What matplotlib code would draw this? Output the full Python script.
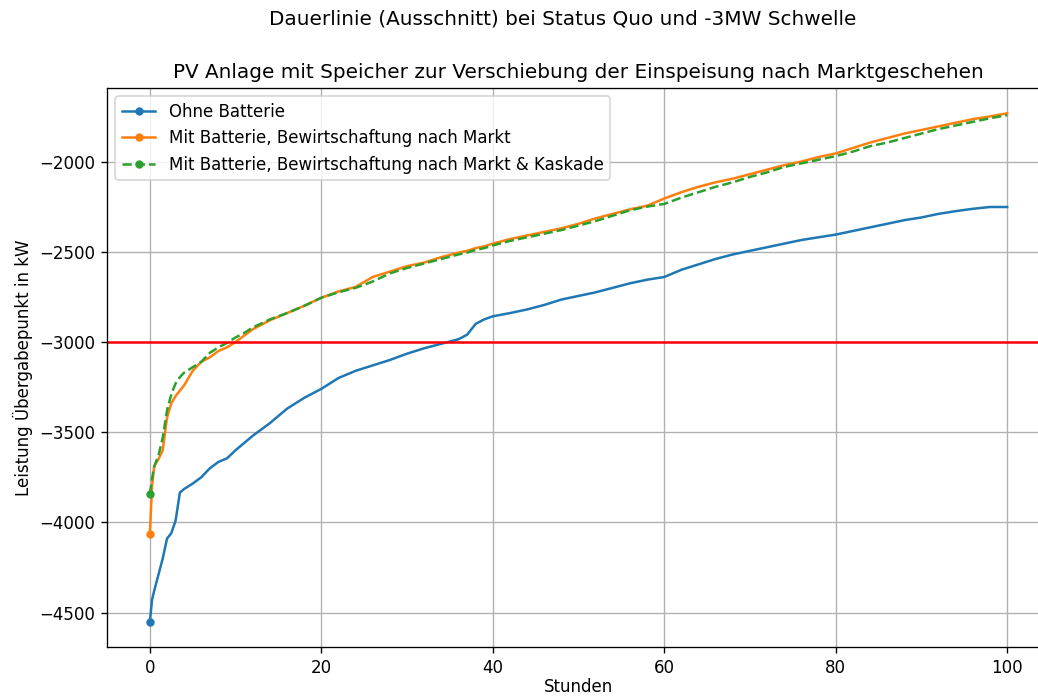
import numpy as np
import matplotlib
matplotlib.use('Agg')
import matplotlib.pyplot as plt

# Stunden (Dauerlinie, Ausschnitt)
hours = [0, 0.25, 0.5, 1, 1.5, 2, 2.5, 3, 3.5, 4, 5, 6, 7, 8, 9, 10, 11, 12,
         14, 16, 18, 20, 22, 24, 26, 28, 30, 32, 34, 36, 37, 38, 39, 40,
         42, 44, 46, 48, 50, 52, 54, 56, 58, 60, 62, 64, 66, 68, 70, 72,
         74, 76, 78, 80, 82, 84, 86, 88, 90, 92, 94, 96, 98, 100]

ohne_batterie = [-4550, -4430, -4380, -4290, -4200, -4090, -4060, -3990, -3835, -3815,
                 -3785, -3750, -3700, -3665, -3645, -3600, -3560, -3520,
                 -3450, -3370, -3310, -3260, -3200, -3160, -3130, -3100, -3065, -3035,
                 -3010, -2985, -2960, -2900, -2875, -2858,
                 -2840, -2820, -2795, -2765, -2745, -2725, -2700, -2675, -2655, -2640,
                 -2600, -2570, -2540, -2515, -2495, -2475,
                 -2455, -2435, -2420, -2405, -2385, -2365, -2345, -2325, -2310, -2290,
                 -2275, -2262, -2252, -2252]

markt = [-4065, -3800, -3690, -3650, -3600, -3420, -3340, -3300, -3270, -3240,
         -3160, -3110, -3085, -3050, -3030, -3000, -2965, -2930,
         -2880, -2840, -2800, -2755, -2720, -2695, -2640, -2610, -2580, -2560,
         -2530, -2505, -2495, -2480, -2470, -2455,
         -2430, -2410, -2390, -2370, -2345, -2315, -2290, -2265, -2245, -2205,
         -2170, -2140, -2115, -2095, -2070, -2045,
         -2020, -2000, -1975, -1955, -1925, -1895, -1870, -1845, -1825, -1805,
         -1785, -1765, -1750, -1733]

markt_kaskade = [-3842, -3760, -3690, -3630, -3530, -3380, -3290, -3230, -3195, -3170,
                 -3140, -3110, -3060, -3030, -3005, -2975, -2950, -2920,
                 -2875, -2840, -2800, -2755, -2725, -2700, -2665, -2620, -2590, -2565,
                 -2540, -2515, -2505, -2490, -2480, -2465,
                 -2440, -2420, -2400, -2380, -2355, -2330, -2300, -2270, -2250, -2235,
                 -2200, -2170, -2140, -2115, -2085, -2060,
                 -2030, -2010, -1990, -1970, -1945, -1915, -1895, -1870, -1845, -1820,
                 -1800, -1780, -1760, -1743]

schwelle = -3000

DPI = 120
fig = plt.figure(figsize=(1038 / DPI, 698 / DPI), dpi=DPI)
# axes reicht rechts etwas ueber den Bildrand hinaus (wie im Original-Ausschnitt)
ax = fig.add_axes([0.1031, 0.0731, 0.9085, 0.8009])

ax.plot(hours, ohne_batterie, '-o', markevery=[0], markersize=4,
        label='Ohne Batterie')
ax.plot(hours, markt, '-o', markevery=[0], markersize=4,
        label='Mit Batterie, Bewirtschaftung nach Markt')
ax.plot(hours, markt_kaskade, '--o', markevery=[0], markersize=4,
        label='Mit Batterie, Bewirtschaftung nach Markt & Kaskade')
ax.axhline(schwelle, color='red')

ax.grid()
ax.legend(loc='upper left')
ax.set_xlabel('Stunden', labelpad=1)
ax.set_ylabel('Leistung Übergabepunkt in kW')
ax.set_title('PV Anlage mit Speicher zur Verschiebung der Einspeisung nach Marktgeschehen')
fig.suptitle('Dauerlinie (Ausschnitt) bei Status Quo und -3MW Schwelle',
             x=0.5424, y=0.973, va='center')

fig.savefig('out.png', dpi=DPI)
